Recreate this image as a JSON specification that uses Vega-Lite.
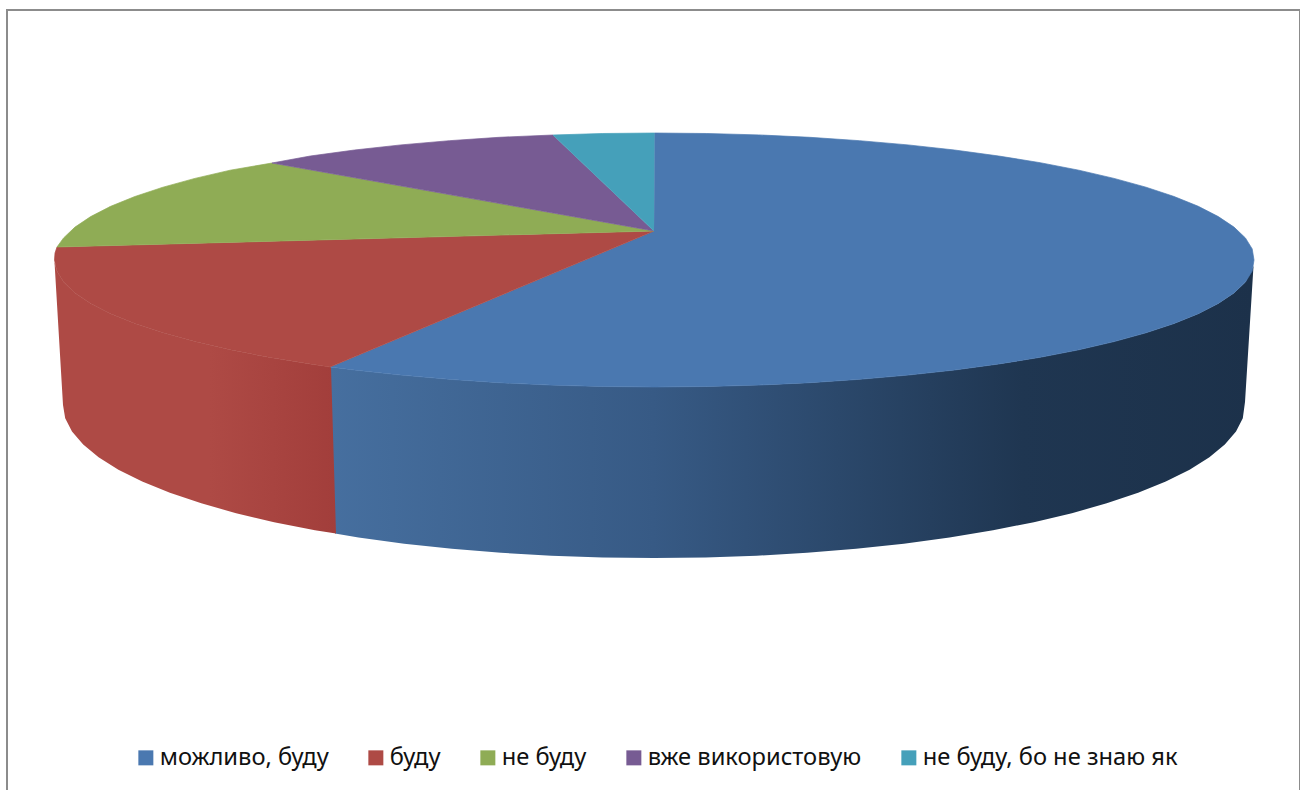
{"$schema":"https://vega.github.io/schema/vega-lite/v6.json","width":1293,"height":790,"padding":{"left":7,"top":10,"right":0,"bottom":0},"autosize":"none","background":"white","view":{"stroke":"#8c8c8c","strokeWidth":2,"fill":"white"},
"config":{"font":"Noto Sans"},
"encoding":{"x":{"field":"x","type":"quantitative","scale":{"domain":[7,1300],"zero":false,"nice":false},"axis":null},"y":{"field":"y","type":"quantitative","scale":{"domain":[800,10],"zero":false,"nice":false},"axis":null},"order":{"field":"i"}},
"datasets":{
"blueSide":[{"i":1,"x":330,"y":367},{"i":2,"x":354.5,"y":370},{"i":3,"x":400.9,"y":375.1},{"i":4,"x":449.3,"y":379.3},{"i":5,"x":499.2,"y":382.7},{"i":6,"x":550.3,"y":385.1},{"i":7,"x":602.2,"y":386.5},{"i":8,"x":654.5,"y":387},{"i":9,"x":706.8,"y":386.5},{"i":10,"x":758.7,"y":385.1},{"i":11,"x":809.8,"y":382.7},{"i":12,"x":859.7,"y":379.3},{"i":13,"x":908.1,"y":375.1},{"i":14,"x":954.5,"y":370},{"i":15,"x":998.7,"y":364},{"i":16,"x":1040.2,"y":357.3},{"i":17,"x":1078.8,"y":349.8},{"i":18,"x":1114.1,"y":341.6},{"i":19,"x":1146,"y":332.8},{"i":20,"x":1174.1,"y":323.5},{"i":21,"x":1198.3,"y":313.7},{"i":22,"x":1218.3,"y":303.4},{"i":23,"x":1234,"y":292.9},{"i":24,"x":1245.4,"y":282.1},{"i":25,"x":1253.5,"y":266},{"i":26,"x":1245,"y":402},{"i":27,"x":1242.8,"y":418.3},{"i":28,"x":1236,"y":431.6},{"i":29,"x":1224.8,"y":444.6},{"i":30,"x":1209.4,"y":457.3},{"i":31,"x":1189.6,"y":469.7},{"i":32,"x":1165.8,"y":481.5},{"i":33,"x":1138.1,"y":492.8},{"i":34,"x":1106.7,"y":503.3},{"i":35,"x":1071.9,"y":513.2},{"i":36,"x":1033.9,"y":522.2},{"i":37,"x":993,"y":530.3},{"i":38,"x":949.5,"y":537.5},{"i":39,"x":903.8,"y":543.7},{"i":40,"x":856.1,"y":548.8},{"i":41,"x":807,"y":552.8},{"i":42,"x":756.6,"y":555.7},{"i":43,"x":705.5,"y":557.4},{"i":44,"x":654,"y":558},{"i":45,"x":602.5,"y":557.4},{"i":46,"x":551.4,"y":555.7},{"i":47,"x":501,"y":552.8},{"i":48,"x":451.9,"y":548.8},{"i":49,"x":404.2,"y":543.7},{"i":50,"x":358.5,"y":537.5},{"i":51,"x":335,"y":533.5}],
"redSide":[{"i":1,"x":331,"y":367},{"i":2,"x":310.3,"y":364},{"i":3,"x":268.8,"y":357.3},{"i":4,"x":230.2,"y":349.8},{"i":5,"x":194.9,"y":341.6},{"i":6,"x":163,"y":332.8},{"i":7,"x":134.9,"y":323.5},{"i":8,"x":110.7,"y":313.7},{"i":9,"x":90.7,"y":303.4},{"i":10,"x":75,"y":292.9},{"i":11,"x":63.6,"y":282.1},{"i":12,"x":56.8,"y":271.1},{"i":13,"x":54.5,"y":262},{"i":14,"x":63,"y":405},{"i":15,"x":65.2,"y":418.3},{"i":16,"x":72,"y":431.6},{"i":17,"x":83.2,"y":444.6},{"i":18,"x":98.6,"y":457.3},{"i":19,"x":118.4,"y":469.7},{"i":20,"x":142.2,"y":481.5},{"i":21,"x":169.9,"y":492.8},{"i":22,"x":201.3,"y":503.3},{"i":23,"x":236.1,"y":513.2},{"i":24,"x":274.1,"y":522.2},{"i":25,"x":315,"y":530.3},{"i":26,"x":336,"y":533.5}],
"top":[
{"slice":"можливо, буду","i":1,"x":654,"y":231},{"slice":"можливо, буду","i":2,"x":654.5,"y":133},{"slice":"можливо, буду","i":3,"x":706.8,"y":133.5},{"slice":"можливо, буду","i":4,"x":758.7,"y":134.9},{"slice":"можливо, буду","i":5,"x":809.8,"y":137.3},{"slice":"можливо, буду","i":6,"x":859.7,"y":140.7},{"slice":"можливо, буду","i":7,"x":908.1,"y":144.9},{"slice":"можливо, буду","i":8,"x":954.5,"y":150},{"slice":"можливо, буду","i":9,"x":998.7,"y":156},{"slice":"можливо, буду","i":10,"x":1040.2,"y":162.7},{"slice":"можливо, буду","i":11,"x":1078.8,"y":170.2},{"slice":"можливо, буду","i":12,"x":1114.1,"y":178.4},{"slice":"можливо, буду","i":13,"x":1146,"y":187.2},{"slice":"можливо, буду","i":14,"x":1174.1,"y":196.5},{"slice":"можливо, буду","i":15,"x":1198.3,"y":206.3},{"slice":"можливо, буду","i":16,"x":1218.3,"y":216.6},{"slice":"можливо, буду","i":17,"x":1234,"y":227.1},{"slice":"можливо, буду","i":18,"x":1245.4,"y":237.9},{"slice":"можливо, буду","i":19,"x":1252.2,"y":248.9},{"slice":"можливо, буду","i":20,"x":1254,"y":260},{"slice":"можливо, буду","i":21,"x":1252.2,"y":271.1},{"slice":"можливо, буду","i":22,"x":1245.4,"y":282.1},{"slice":"можливо, буду","i":23,"x":1234,"y":292.9},{"slice":"можливо, буду","i":24,"x":1218.3,"y":303.4},{"slice":"можливо, буду","i":25,"x":1198.3,"y":313.7},{"slice":"можливо, буду","i":26,"x":1174.1,"y":323.5},{"slice":"можливо, буду","i":27,"x":1146,"y":332.8},{"slice":"можливо, буду","i":28,"x":1114.1,"y":341.6},{"slice":"можливо, буду","i":29,"x":1078.8,"y":349.8},{"slice":"можливо, буду","i":30,"x":1040.2,"y":357.3},{"slice":"можливо, буду","i":31,"x":998.7,"y":364},{"slice":"можливо, буду","i":32,"x":954.5,"y":370},{"slice":"можливо, буду","i":33,"x":908.1,"y":375.1},{"slice":"можливо, буду","i":34,"x":859.7,"y":379.3},{"slice":"можливо, буду","i":35,"x":809.8,"y":382.7},{"slice":"можливо, буду","i":36,"x":758.7,"y":385.1},{"slice":"можливо, буду","i":37,"x":706.8,"y":386.5},{"slice":"можливо, буду","i":38,"x":654.5,"y":387},{"slice":"можливо, буду","i":39,"x":602.2,"y":386.5},{"slice":"можливо, буду","i":40,"x":550.3,"y":385.1},{"slice":"можливо, буду","i":41,"x":499.2,"y":382.7},{"slice":"можливо, буду","i":42,"x":449.3,"y":379.3},{"slice":"можливо, буду","i":43,"x":400.9,"y":375.1},{"slice":"можливо, буду","i":44,"x":354.5,"y":370},{"slice":"можливо, буду","i":45,"x":330,"y":367},
{"slice":"буду","i":1,"x":654,"y":231},{"slice":"буду","i":2,"x":330,"y":367},{"slice":"буду","i":3,"x":310.3,"y":364},{"slice":"буду","i":4,"x":268.8,"y":357.3},{"slice":"буду","i":5,"x":230.2,"y":349.8},{"slice":"буду","i":6,"x":194.9,"y":341.6},{"slice":"буду","i":7,"x":163,"y":332.8},{"slice":"буду","i":8,"x":134.9,"y":323.5},{"slice":"буду","i":9,"x":110.7,"y":313.7},{"slice":"буду","i":10,"x":90.7,"y":303.4},{"slice":"буду","i":11,"x":75,"y":292.9},{"slice":"буду","i":12,"x":63.6,"y":282.1},{"slice":"буду","i":13,"x":56.8,"y":271.1},{"slice":"буду","i":14,"x":54.5,"y":260},{"slice":"буду","i":15,"x":55,"y":253},{"slice":"буду","i":16,"x":57,"y":247},
{"slice":"не буду","i":1,"x":654,"y":231},{"slice":"не буду","i":2,"x":57,"y":247},{"slice":"не буду","i":3,"x":63.6,"y":237.9},{"slice":"не буду","i":4,"x":75,"y":227.1},{"slice":"не буду","i":5,"x":90.7,"y":216.6},{"slice":"не буду","i":6,"x":110.7,"y":206.3},{"slice":"не буду","i":7,"x":134.9,"y":196.5},{"slice":"не буду","i":8,"x":163,"y":187.2},{"slice":"не буду","i":9,"x":194.9,"y":178.4},{"slice":"не буду","i":10,"x":230.2,"y":170.2},{"slice":"не буду","i":11,"x":272,"y":163},
{"slice":"вже використовую","i":1,"x":654,"y":231},{"slice":"вже використовую","i":2,"x":272,"y":163},{"slice":"вже використовую","i":3,"x":310.3,"y":156},{"slice":"вже використовую","i":4,"x":354.5,"y":150},{"slice":"вже використовую","i":5,"x":400.9,"y":144.9},{"slice":"вже використовую","i":6,"x":449.3,"y":140.7},{"slice":"вже використовую","i":7,"x":499.2,"y":137.3},{"slice":"вже використовую","i":8,"x":553,"y":135},
{"slice":"не буду, бо не знаю як","i":1,"x":654,"y":231},{"slice":"не буду, бо не знаю як","i":2,"x":553,"y":135},{"slice":"не буду, бо не знаю як","i":3,"x":602.2,"y":133.5},{"slice":"не буду, бо не знаю як","i":4,"x":654.5,"y":133}
]},
"layer":[
{"data":{"name":"blueSide"},"mark":{"type":"line","strokeWidth":0,"fill":{"gradient":"linear","x1":0,"x2":1,"y1":0,"y2":0,"stops":[{"offset":0,"color":"#466f9f"},{"offset":0.35,"color":"#375a85"},{"offset":0.75,"color":"#1f3651"},{"offset":1,"color":"#1c314a"}]}}},
{"data":{"name":"redSide"},"mark":{"type":"line","strokeWidth":0,"fill":{"gradient":"linear","x1":0,"x2":1,"y1":0,"y2":0,"stops":[{"offset":0,"color":"#ae4a45"},{"offset":0.55,"color":"#ae4a45"},{"offset":1,"color":"#a23e3b"}]}}},
{"data":{"name":"top"},"mark":{"type":"line","strokeWidth":0.7},
"encoding":{"fill":{"field":"slice","type":"nominal","scale":{"domain":["можливо, буду","буду","не буду","вже використовую","не буду, бо не знаю як"],"range":["#4a78b0","#ae4a45","#8fac55","#775b93","#45a0ba"]},
"legend":{"title":null,"orient":"none","legendX":127,"legendY":736,"direction":"horizontal","columns":5,"gridAlign":"none","columnPadding":35,"symbolType":"square","symbolSize":225,"symbolStrokeWidth":0,"labelFontSize":23.7,"labelColor":"#111111","labelFont":"Noto Sans","labelLimit":400,"labelOffset":2}},
"stroke":{"field":"slice","type":"nominal","legend":null,"scale":{"domain":["можливо, буду","буду","не буду","вже використовую","не буду, бо не знаю як"],"range":["#4a78b0","#ae4a45","#8fac55","#775b93","#45a0ba"]}}}}
]}
